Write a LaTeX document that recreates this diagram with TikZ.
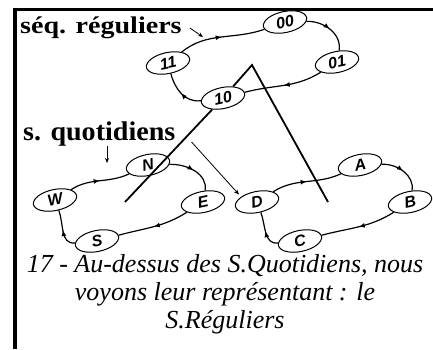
\documentclass[tikz,border=0pt]{standalone}
\usepackage{fontspec}
\setmainfont{Liberation Serif}
\setsansfont{Liberation Sans}
\usetikzlibrary{shapes.geometric,arrows.meta,decorations.markings}

\tikzset{
  etat/.style={ellipse, draw, line width=1pt, fill=white, inner sep=0pt,
    minimum width=44pt, minimum height=21pt, rotate=12,
    font=\sffamily\bfseries\itshape\fontsize{16}{16}\selectfont},
  cyc/.style={line width=1.2pt, postaction={decorate},
    decoration={markings, mark=at position 0.5 with {\arrow{Latex[length=6pt,width=5pt]}}}},
  lien/.style={line width=1.8pt},
  fleche/.style={line width=0.8pt, -{Stealth[length=5pt,width=4pt]}},
  titre/.style={font=\bfseries\fontsize{#1}{#1}\selectfont, inner sep=0pt, anchor=base west},
}

\begin{document}
\begin{tikzpicture}[x=1pt,y=1pt]
\useasboundingbox (0,0) rectangle (433,-349);
% frame
\draw[line width=3.5pt] (433,-9.5) -- (15,-9.5) -- (15,-349);

% cycle N E S W
\foreach \n/\x/\y in {N/148/165, E/203/202, S/97/241, W/55/200}
  \node[etat] (n\n) at (\x,-\y) {\n};
\foreach \a/\b/\o/\i in {W/N/28/200, N/E/-5/75, E/S/-152/10, S/W/178/-75}
  \draw[cyc] (n\a) to[out=\o,in=\i] (n\b);

% cycle A B C D
\foreach \n/\x/\y in {A/360/165, B/410/202, C/300/241, D/257/202}
  \node[etat] (n\n) at (\x,-\y) {\n};
\foreach \a/\b/\o/\i in {D/A/28/200, A/B/-5/75, B/C/-152/10, C/D/178/-75}
  \draw[cyc] (n\a) to[out=\o,in=\i] (n\b);

% top cycle
\foreach \n/\x/\y in {00/285/22, 01/337/62, 10/223/98, 11/168/63}
  \node[etat] (n\n) at (\x,-\y) {\n};
\foreach \a/\b/\o/\i in {11/00/35/195, 00/01/-5/75, 01/10/-152/10, 10/11/180/-80}
  \draw[cyc] (n\a) to[out=\o,in=\i] (n\b);

% links from the top cycle down to both cycles
\coordinate (sommet) at (252,-65);
\coordinate (centreG) at (125,-202);
\coordinate (centreD) at (328,-202);
\draw[lien] (centreG) -- (n10);
\draw[lien] (n10) -- (sommet) -- (centreD);

% labels
\node[titre=24, xscale=1.17] (seq) at (20,-33) {séq. réguliers};
\node[titre=27, xscale=1.04] (quot) at (23,-140) {s. quotidiens};
\coordinate (seqbout) at (203,-37);
\coordinate (quotbas) at (107,-163);
\draw[fleche] ([xshift=8pt,yshift=5pt]seq.base east) -- (seqbout);
\draw[fleche] (quot.south -| quotbas) -- (quotbas);
\draw[fleche, shorten >=3pt] ([xshift=16pt,yshift=-2pt]quot.base east) -- (nD.150);

% caption
\node[font=\itshape\fontsize{26}{28}\selectfont, align=center, inner sep=0pt] (legende) at (225,-294)
  {17 - Au-dessus des S.Quotidiens, nous\\ voyons leur représentant : le\\ S.Réguliers};
\end{tikzpicture}
\end{document}
